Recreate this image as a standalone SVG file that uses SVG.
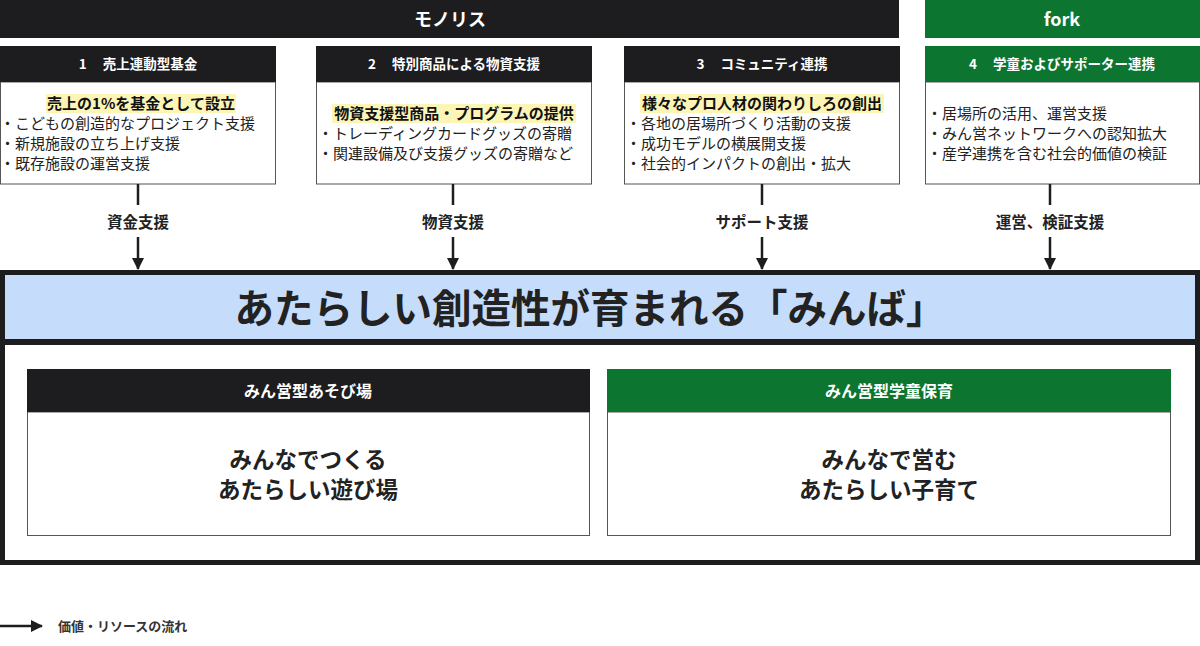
<svg xmlns="http://www.w3.org/2000/svg" width="1200" height="646" viewBox="0 0 1200 646">
<defs>
<marker id="ah" viewBox="0 0 12 12" refX="11" refY="6" markerWidth="12" markerHeight="12" markerUnits="userSpaceOnUse" orient="auto">
<path d="M0,0 L12,6 L0,12 Z" fill="#1d1d1f"/>
</marker>
<style>
text{font-family:"Noto Sans CJK JP","Liberation Sans",sans-serif;}
.bar{fill:#1d1d1f;}
.grn{fill:#0c7630;}
.hd{font-size:13.5px;font-weight:700;fill:#fff;text-anchor:middle;}
.bartxt{font-size:18px;font-weight:700;fill:#fff;text-anchor:middle;}
.body{fill:#fff;stroke:#555;stroke-width:1;}
.hl{fill:#fdf5b6;}
.b{font-size:15px;fill:#222;}
.bh{font-size:15px;font-weight:700;fill:#111;text-anchor:middle;}
.lbl{font-size:15.5px;font-weight:700;fill:#222;text-anchor:middle;}
.conn{stroke:#1d1d1f;stroke-width:2.5;fill:none;}
.sub{font-size:22.5px;font-weight:700;fill:#222;text-anchor:middle;}
.subhd{font-size:16px;font-weight:700;fill:#fff;text-anchor:middle;}
</style>
</defs>
<rect width="1200" height="646" fill="#fff"/>

<g id="monolith-bar">
<rect class="bar" x="0" y="0" width="899" height="38"/>
<text class="bartxt" x="450" y="25.5">モノリス</text>
</g>
<g id="fork-bar">
<rect class="grn" x="925" y="0" width="275" height="38"/>
<text class="bartxt" x="1062" y="25.5">fork</text>
</g>

<g id="box1">
<rect class="body" x="0.5" y="82" width="275" height="102"/>
<rect class="bar" x="0" y="46" width="276" height="36"/>
<text class="hd" x="138" y="69">1<tspan dx="16">売上連動型基金</tspan></text>
<rect class="hl" x="46" y="94" width="190" height="19"/>
<text class="bh" x="141" y="108.5">売上の1%を基金として設立</text>
<text class="b" x="0" y="128.5">・こどもの創造的なプロジェクト支援</text>
<text class="b" x="0" y="148.5">・新規施設の立ち上げ支援</text>
<text class="b" x="0" y="168.5">・既存施設の運営支援</text>
</g>

<g id="box2">
<rect class="body" x="316.5" y="82" width="275" height="102"/>
<rect class="bar" x="316" y="46" width="276" height="36"/>
<text class="hd" x="454" y="69">2<tspan dx="16">特別商品による物資支援</tspan></text>
<rect class="hl" x="332" y="104" width="244" height="19"/>
<text class="bh" x="454" y="118.5">物資支援型商品・プログラムの提供</text>
<text class="b" x="318" y="138.5">・トレーディングカードグッズの寄贈</text>
<text class="b" x="318" y="158.5">・関連設備及び支援グッズの寄贈など</text>
</g>

<g id="box3">
<rect class="body" x="624.5" y="82" width="275" height="102"/>
<rect class="bar" x="624" y="46" width="276" height="36"/>
<text class="hd" x="762" y="69">3<tspan dx="16">コミュニティ連携</tspan></text>
<rect class="hl" x="640" y="94" width="244" height="19"/>
<text class="bh" x="762" y="108.5">様々なプロ人材の関わりしろの創出</text>
<text class="b" x="626" y="128.5">・各地の居場所づくり活動の支援</text>
<text class="b" x="626" y="148.5">・成功モデルの横展開支援</text>
<text class="b" x="626" y="168.5">・社会的インパクトの創出・拡大</text>
</g>

<g id="box4">
<rect class="body" x="925.5" y="82" width="274" height="102"/>
<rect class="grn" x="925" y="46" width="275" height="36"/>
<text class="hd" x="1062" y="69">4<tspan dx="16">学童およびサポーター連携</tspan></text>
<text class="b" x="927" y="118.5">・居場所の活用、運営支援</text>
<text class="b" x="927" y="138.5">・みん営ネットワークへの認知拡大</text>
<text class="b" x="927" y="158.5">・産学連携を含む社会的価値の検証</text>
</g>

<g id="connectors">
<line class="conn" x1="138" y1="184" x2="138" y2="205"/>
<line class="conn" x1="138" y1="237" x2="138" y2="269" marker-end="url(#ah)"/>
<line class="conn" x1="453" y1="184" x2="453" y2="205"/>
<line class="conn" x1="453" y1="237" x2="453" y2="269" marker-end="url(#ah)"/>
<line class="conn" x1="762" y1="184" x2="762" y2="205"/>
<line class="conn" x1="762" y1="237" x2="762" y2="269" marker-end="url(#ah)"/>
<line class="conn" x1="1050" y1="184" x2="1050" y2="205"/>
<line class="conn" x1="1050" y1="237" x2="1050" y2="269" marker-end="url(#ah)"/>
<text class="lbl" x="138" y="227.5">資金支援</text>
<text class="lbl" x="453" y="227.5">物資支援</text>
<text class="lbl" x="762" y="227.5">サポート支援</text>
<text class="lbl" x="1050" y="227.5">運営、検証支援</text>
</g>

<g id="minba">
<rect x="2.5" y="272.5" width="1195" height="290" fill="#fff" stroke="#1d1d1f" stroke-width="5"/>
<rect x="5" y="275" width="1190" height="64" fill="#c6dcfb"/>
<rect x="5" y="339" width="1190" height="6" fill="#1d1d1f"/>
<text x="590" y="322.5" font-size="39.5" font-weight="700" fill="#222" text-anchor="middle">あたらしい創造性が育まれる「みんば」</text>
</g>

<g id="asobiba">
<rect class="body" x="27.5" y="412" width="562" height="123.5"/>
<rect class="bar" x="27" y="369" width="563" height="43"/>
<text class="subhd" x="308" y="396.5">みん営型あそび場</text>
<text class="sub" x="308" y="468">みんなでつくる</text>
<text class="sub" x="308" y="498">あたらしい遊び場</text>
</g>

<g id="gakudo">
<rect class="body" x="607.5" y="412" width="563" height="123.5"/>
<rect class="grn" x="607" y="369" width="564" height="43"/>
<text class="subhd" x="889" y="396.5">みん営型学童保育</text>
<text class="sub" x="889" y="468">みんなで営む</text>
<text class="sub" x="889" y="498">あたらしい子育て</text>
</g>

<g id="legend">
<line class="conn" x1="0" y1="626" x2="42" y2="626" marker-end="url(#ah)"/>
<text x="58" y="630.5" font-size="13" font-weight="700" fill="#333">価値・リソースの流れ</text>
</g>
</svg>
